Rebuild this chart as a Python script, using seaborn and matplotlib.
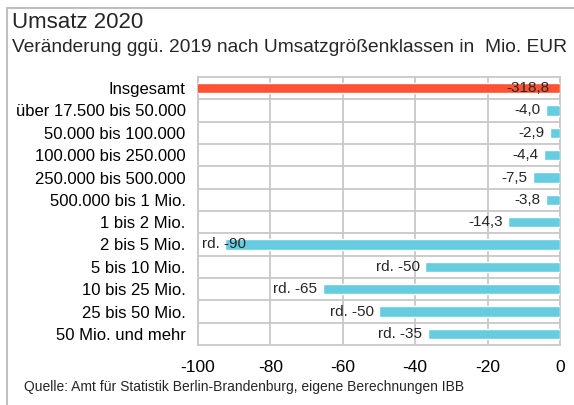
import matplotlib
matplotlib.use("Agg")
import matplotlib.pyplot as plt
import seaborn as sns
import pandas as pd
from matplotlib.patches import Rectangle

categories = ["Insgesamt", "über 17.500 bis 50.000", "50.000 bis 100.000",
              "100.000 bis 250.000", "250.000 bis 500.000", "500.000 bis 1 Mio.",
              "1 bis 2 Mio.", "2 bis 5 Mio.", "5 bis 10 Mio.", "10 bis 25 Mio.",
              "25 bis 50 Mio.", "50 Mio. und mehr"]
values = [-318.8, -4.0, -2.9, -4.4, -7.5, -3.8, -14.3, -92.5, -37.3, -65.5, -50.0, -36.5]
value_labels = ["-318,8", "-4,0", "-2,9", "-4,4", "-7,5", "-3,8", "-14,3",
                "rd. -90", "rd. -50", "rd. -65", "rd. -50", "rd. -35"]
x_ticks = [-100, -80, -60, -40, -20, 0]

RED = "#FF5133"
CYAN = "#66CDE1"
GRID = "#C8C8C8"

sns.set_theme(style="white")
plt.rcParams["font.family"] = ["Liberation Sans", "DejaVu Sans"]

df = pd.DataFrame({"cat": categories, "val": values})
palette = {c: (RED if i == 0 else CYAN) for i, c in enumerate(categories)}

fig = plt.figure(figsize=(5.74, 4.05), dpi=100)
ax = fig.add_axes([198/574, 1-345/405, (560-198)/574, (345-77)/405])

sns.barplot(data=df, x="val", y="cat", hue="cat", palette=palette, legend=False,
            orient="h", width=0.46, ax=ax, saturation=1, zorder=3)

ax.set_xlim(-100, 0)
ax.set_ylim(len(categories) - 0.5, -0.5)
ax.set_xticks(x_ticks)
ax.set_xticklabels([str(t) for t in x_ticks], fontsize=12.5)
ax.tick_params(axis="x", length=0, pad=11, colors="black")
ax.tick_params(axis="y", length=0, pad=9, labelsize=12, colors="black")
ax.set_xlabel("")
ax.set_ylabel("")

for t in x_ticks:
    ax.axvline(t, color=GRID, lw=1.3, zorder=1)
for i in range(len(categories) - 1):
    ax.axhline(i + 0.5, color=GRID, lw=1.3, zorder=1)
for s in ax.spines.values():
    s.set_color(GRID)
    s.set_linewidth(1.3)

for i, (v, lab) in enumerate(zip(values, value_labels)):
    if i == 0:
        ax.text(-2.8, i, lab, ha="right", va="center", fontsize=11, zorder=5)
    elif v - 1.5 - 13 < -100:
        ax.text(-99.0, i, lab, ha="left", va="center", fontsize=11, zorder=5)
    else:
        ax.text(v - 1.5, i, lab, ha="right", va="center", fontsize=11, zorder=5)

fig.text(12/574, 1-22/405, "Umsatz 2020", fontsize=16, ha="left", va="center")
fig.text(12/574, 1-48/405, "Veränderung ggü. 2019 nach Umsatzgrößenklassen in  Mio. EUR",
         fontsize=13.8, ha="left", va="center")
fig.text(24/574, 1-387/405,
         "Quelle: Amt für Statistik Berlin-Brandenburg, eigene Berechnungen IBB",
         fontsize=10, ha="left", va="center")

fig.patches.append(Rectangle((6.5/574, -0.1), 1.2, 1 - 7.5/405 + 0.1,
                             transform=fig.transFigure, fill=False,
                             edgecolor="#C0C0C0", lw=1.5))

fig.savefig("out.png", dpi=100)
